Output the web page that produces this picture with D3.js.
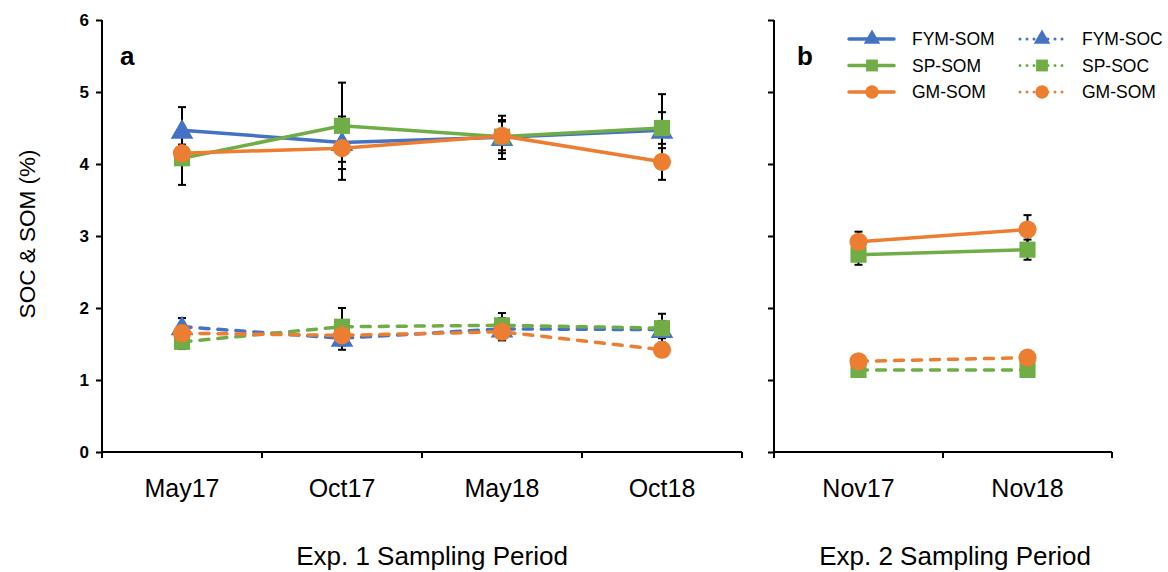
<!DOCTYPE html>
<html>
<head>
<meta charset="utf-8">
<script src="https://cdn.jsdelivr.net/npm/d3@7"></script>
<style>
  body { margin: 0; background: #fff; }
  text { font-family: "Liberation Sans", Arial, sans-serif; }
</style>
</head>
<body>
<script>
const width = 1168, height = 572;

// data
const exp1Periods = ["May17", "Oct17", "May18", "Oct18"];
const exp2Periods = ["Nov17", "Nov18"];
const yTicks = [0, 1, 2, 3, 4, 5, 6];

const fymSom1 = [4.47, 4.30, 4.37, 4.47], fymSomErr1 = [0.32, 0.27, 0.30, 0.25];
const spSom1  = [4.08, 4.53, 4.38, 4.50], spSomErr1  = [0.37, 0.60, 0.23, 0.47];
const gmSom1  = [4.15, 4.22, 4.39, 4.03], gmSomErr1  = [0.12, 0.44, 0.20, 0.25];
const fymSoc1 = [1.74, 1.58, 1.71, 1.70], fymSocErr1 = [0.12, 0.16, 0.15, 0.12];
const spSoc1  = [1.53, 1.74, 1.76, 1.72], spSocErr1  = [0.10, 0.26, 0.17, 0.20];
const gmSoc1  = [1.65, 1.62, 1.67, 1.42], gmSocErr1  = [0.08, 0.10, 0.12, 0.08];

const spSom2  = [2.74, 2.81], spSomErr2 = [0.14, 0.14];
const gmSom2  = [2.92, 3.09], gmSomErr2 = [0.14, 0.20];
const spSoc2  = [1.14, 1.14], spSocErr2 = [0.04, 0.04];
const gmSoc2  = [1.26, 1.31], gmSocErr2 = [0.04, 0.04];

const legendNames = ["FYM-SOM", "SP-SOM", "GM-SOM", "FYM-SOC", "SP-SOC", "GM-SOM"];

const BLUE = "#4472c4", GREEN = "#70ad47", ORANGE = "#ed7d31";

const svg = d3.select("body").append("svg")
  .attr("width", width).attr("height", height);

const y = d3.scaleLinear().domain([0, 6]).range([452, 20]);

const x1 = d3.scaleBand().domain(exp1Periods).range([102, 742]);
const x2 = d3.scaleBand().domain(exp2Periods).range([774, 1112]);

function markerPath(shape, size) {
  if (shape == "tri") return d3.symbol(d3.symbolTriangle, size * 0.85)();
  if (shape == "sq") return d3.symbol(d3.symbolSquare, size)();
  return d3.symbol(d3.symbolCircle, size)();
}

function drawPanel(x, cats, series) {
  const g = svg.append("g");
  const cx = d => x(d) + x.bandwidth() / 2;

  // axes
  const yAxis = g.append("g").attr("transform", "translate(" + x.range()[0] + ",0)")
    .call(d3.axisLeft(y).tickValues(yTicks).tickFormat(d3.format("d")).tickSize(6).tickSizeOuter(0));
  yAxis.select(".domain").attr("stroke-width", 2).attr("d", "M0,452V20");
  yAxis.selectAll(".tick line").attr("stroke-width", 2);
  yAxis.selectAll("text").attr("font-size", 17).attr("font-weight", "bold")
    .attr("x", -13).attr("fill", "#000");
  if (x === x2) yAxis.selectAll("text").remove();

  const r = x.range();
  g.append("line").attr("x1", r[0]).attr("x2", r[1]).attr("y1", 452).attr("y2", 452)
    .attr("stroke", "#000").attr("stroke-width", 2);
  const bounds = [r[0]].concat(cats.map(c => x(c) + x.bandwidth()));
  g.selectAll(".xt").data(bounds).enter().append("line")
    .attr("x1", d => d).attr("x2", d => d).attr("y1", 452).attr("y2", 458)
    .attr("stroke", "#000").attr("stroke-width", 2);
  g.selectAll(".xl").data(cats).enter().append("text")
    .attr("x", cx).attr("y", 497).attr("text-anchor", "middle")
    .attr("font-size", 25).attr("font-family", "'Liberation Sans Narrow', 'Liberation Sans', Arial, sans-serif")
    .text(d => d);

  // error bars
  series.forEach(s => {
    s.vals.forEach((v, i) => {
      const px = cx(cats[i]);
      const e = s.err[i];
      g.append("line").attr("x1", px).attr("x2", px)
        .attr("y1", y(v - e)).attr("y2", y(v + e))
        .attr("stroke", "#000").attr("stroke-width", 2);
      [v - e, v + e].forEach(w => {
        g.append("line").attr("x1", px - 4).attr("x2", px + 4)
          .attr("y1", y(w)).attr("y2", y(w))
          .attr("stroke", "#000").attr("stroke-width", 2);
      });
    });
  });

  // lines and markers
  series.forEach(s => {
    const line = d3.line().x((d, i) => cx(cats[i])).y(d => y(d));
    g.append("path").attr("d", line(s.vals)).attr("fill", "none")
      .attr("stroke", s.color).attr("stroke-width", 3.5)
      .attr("stroke-linecap", "round")
      .attr("stroke-dasharray", s.dash ? "9,9" : null);
    g.selectAll(null).data(s.vals).enter().append("path")
      .attr("d", markerPath(s.shape, 260))
      .attr("transform", (d, i) => "translate(" + cx(cats[i]) + "," + (y(d) + (s.shape == "tri" ? 2 : 0)) + ")")
      .attr("fill", s.color);
  });
}

drawPanel(x1, exp1Periods, [
  { vals: fymSom1, err: fymSomErr1, color: BLUE, shape: "tri" },
  { vals: spSom1, err: spSomErr1, color: GREEN, shape: "sq" },
  { vals: gmSom1, err: gmSomErr1, color: ORANGE, shape: "circ" },
  { vals: fymSoc1, err: fymSocErr1, color: BLUE, shape: "tri", dash: true },
  { vals: spSoc1, err: spSocErr1, color: GREEN, shape: "sq", dash: true },
  { vals: gmSoc1, err: gmSocErr1, color: ORANGE, shape: "circ", dash: true }
]);

drawPanel(x2, exp2Periods, [
  { vals: spSom2, err: spSomErr2, color: GREEN, shape: "sq" },
  { vals: gmSom2, err: gmSomErr2, color: ORANGE, shape: "circ" },
  { vals: spSoc2, err: spSocErr2, color: GREEN, shape: "sq", dash: true },
  { vals: gmSoc2, err: gmSocErr2, color: ORANGE, shape: "circ", dash: true }
]);

// panel letters
svg.append("text").attr("x", 120).attr("y", 65).attr("font-size", 26)
  .attr("font-weight", "bold").text("a");
svg.append("text").attr("x", 797).attr("y", 65).attr("font-size", 26)
  .attr("font-weight", "bold").text("b");

// titles
svg.append("text").attr("x", 432).attr("y", 565).attr("text-anchor", "middle")
  .attr("font-size", 26).text("Exp. 1 Sampling Period");
svg.append("text").attr("x", 955).attr("y", 565).attr("text-anchor", "middle")
  .attr("font-size", 26).text("Exp. 2 Sampling Period");
svg.append("text").attr("transform", "translate(35,234) rotate(-90)")
  .attr("text-anchor", "middle").attr("font-size", 22.5).text("SOC & SOM (%)");

// legend
const legColors = [BLUE, GREEN, ORANGE, BLUE, GREEN, ORANGE];
const legShapes = ["tri", "sq", "circ", "tri", "sq", "circ"];
legendNames.forEach((name, i) => {
  const col = Math.floor(i / 3), row = i % 3;
  const ly = 39 + row * 26.5;
  const lx0 = col == 0 ? 849 : 1020, lx1 = col == 0 ? 894 : 1063;
  const mx = col == 0 ? 872 : 1042;
  const lg = svg.append("g");
  lg.append("line").attr("x1", lx0).attr("x2", lx1).attr("y1", ly).attr("y2", ly)
    .attr("stroke", legColors[i]).attr("stroke-width", col == 0 ? 3.5 : 3)
    .attr("stroke-linecap", "round")
    .attr("stroke-dasharray", col == 0 ? null : "0,7");
  lg.append("path").attr("d", markerPath(legShapes[i], 140))
    .attr("transform", "translate(" + mx + "," + ly + ")")
    .attr("fill", legColors[i]);
  lg.append("text").attr("x", col == 0 ? 912 : 1082).attr("y", ly + 6)
    .attr("font-size", 17.5).text(name);
});
</script>
</body>
</html>
